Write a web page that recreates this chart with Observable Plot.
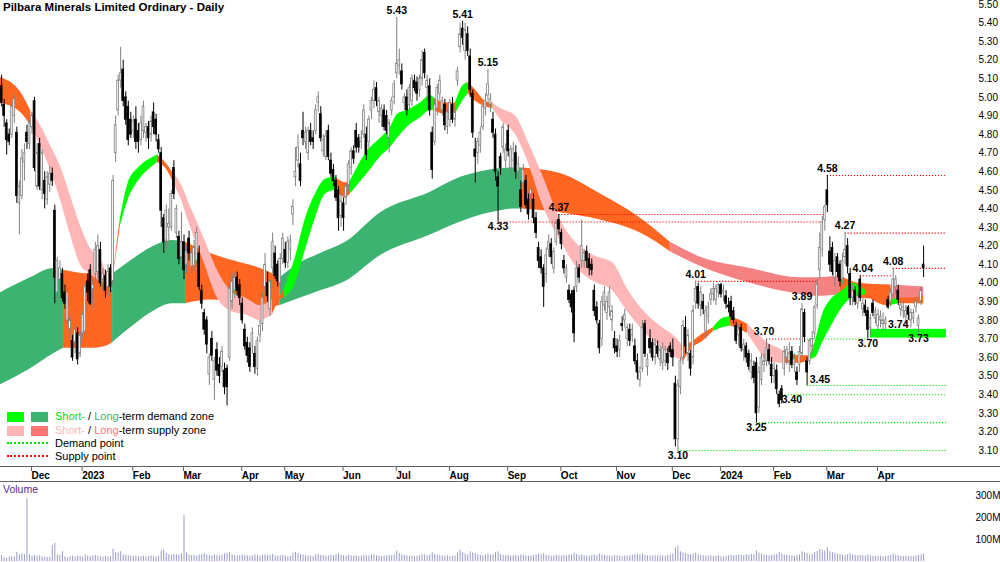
<!DOCTYPE html>
<html><head><meta charset="utf-8">
<script src="https://cdn.jsdelivr.net/npm/d3@7"></script>
<script src="https://cdn.jsdelivr.net/npm/@observablehq/plot@0.6"></script>
<style>
body{margin:0;background:#fff;font-family:"Liberation Sans",Arial,sans-serif;}
#wrap{position:relative;width:1000px;height:562px;overflow:hidden;background:#fff;}
#price,#vol{position:absolute;left:0;}
#price{top:0}
#vol{top:481px}
.title{position:absolute;left:3px;top:1px;font-weight:bold;font-size:11.5px;color:#000;}
.hl{position:absolute;left:0;width:1000px;height:1px;background:#606060;}
.leg{position:absolute;font-size:11px;color:#000;white-space:nowrap;line-height:12px;}
.box{position:absolute;width:17px;height:10px;}
.dot{position:absolute;width:41px;height:0;border-top:2px dotted;}
.vlab{position:absolute;left:3px;top:483px;font-size:10.5px;color:#5a2a8c;}
</style></head>
<body><div id="wrap">
<div id="price"></div>
<div id="vol"></div>
<div class="title">Pilbara Minerals Limited Ordinary - Daily</div>
<div class="hl" style="top:466px"></div>
<div class="hl" style="top:481px"></div>
<div class="box" style="left:7px;top:412px;background:#00ff00"></div>
<div class="box" style="left:31px;top:412px;background:#3cb371"></div>
<div class="leg" style="left:55px;top:410px"><span style="color:#00e600">Short-</span> / <span style="color:#3cb371">Long</span>-term demand zone</div>
<div class="box" style="left:7px;top:426px;background:#ffb6b6"></div>
<div class="box" style="left:31px;top:426px;background:#ff7373"></div>
<div class="leg" style="left:55px;top:424px"><span style="color:#ffb6b6">Short-</span> / <span style="color:#ff7373">Long</span>-term supply zone</div>
<div class="dot" style="left:7px;top:442px;border-color:#00e000"></div>
<div class="leg" style="left:55px;top:437px">Demand point</div>
<div class="dot" style="left:7px;top:455px;border-color:#ff0000"></div>
<div class="leg" style="left:55px;top:450px">Supply point</div>
<div class="vlab">Volume</div>
</div>
<script>
// ---- data (trading-day index from 15 Nov 2022) ----
const ohlc = [
[4.98,5.08,4.92,5.05],[5.06,5.12,4.95,4.97],[4.96,4.99,4.84,4.90],[4.86,4.88,4.69,4.77],[4.80,4.83,4.74,4.76],
[4.80,4.97,4.78,4.95],[4.90,5.02,4.86,4.99],[4.81,4.84,4.43,4.47],[4.43,4.55,4.26,4.52],[4.47,4.72,4.45,4.67],
[4.65,4.75,4.55,4.70],[4.81,4.85,4.72,4.76],[4.75,4.88,4.72,4.86],[4.84,4.92,4.80,4.90],[4.98,5.00,4.60,4.62],
[4.52,4.75,4.50,4.70],[4.75,4.78,4.50,4.52],[4.50,4.72,4.45,4.70],[4.55,4.60,4.40,4.48],[4.45,4.60,4.42,4.57],
[4.53,4.63,4.49,4.59],[4.59,4.62,4.52,4.55],[4.39,4.42,3.89,4.03],[3.95,4.14,3.90,4.12],[4.02,4.12,3.96,4.08],
[4.05,4.08,3.90,3.92],[3.95,3.99,3.86,3.89],[3.80,3.97,3.78,3.95],[3.75,3.82,3.70,3.80],[3.69,3.72,3.58,3.60],
[3.68,3.77,3.62,3.75],[3.73,3.76,3.56,3.59],[3.62,3.74,3.60,3.72],[3.73,3.85,3.70,3.83],[3.74,4.00,3.72,3.98],
[4.01,4.05,3.90,3.95],[4.07,4.10,3.88,3.89],[3.97,4.02,3.86,3.99],[4.05,4.22,4.00,4.18],[4.06,4.26,4.02,4.20],
[4.18,4.22,3.98,4.00],[4.02,4.08,3.95,4.05],[4.04,4.07,3.92,3.96],[3.98,4.10,3.93,4.06],[4.08,4.10,3.95,3.98],
[4.01,4.58,3.99,4.55],[4.70,4.90,4.65,4.85],[4.93,5.12,4.90,5.09],[5.09,5.27,5.05,5.13],[5.15,5.20,4.95,4.98],
[5.00,5.03,4.85,4.88],[4.95,4.98,4.74,4.77],[4.88,4.92,4.78,4.80],[4.82,4.90,4.78,4.87],[4.88,4.95,4.72,4.76],
[4.82,4.86,4.70,4.76],[4.77,4.90,4.74,4.86],[4.82,4.98,4.78,4.95],[4.81,4.86,4.76,4.84],[4.84,4.87,4.72,4.78],
[4.80,4.90,4.76,4.87],[4.92,4.97,4.80,4.84],[4.88,4.91,4.76,4.80],[4.77,4.80,4.70,4.72],[4.70,4.73,4.30,4.39],
[4.35,4.37,4.16,4.22],[4.23,4.42,4.18,4.39],[4.30,4.40,4.22,4.32],[4.30,4.50,4.28,4.48],[4.62,4.66,4.45,4.48],
[4.27,4.42,4.24,4.40],[4.25,4.28,4.10,4.13],[4.14,4.38,4.12,4.22],[4.22,4.26,4.02,4.07],[4.10,4.20,4.05,4.17],
[4.24,4.28,4.12,4.16],[4.09,4.19,4.05,4.16],[4.09,4.23,4.06,4.19],[4.12,4.30,4.10,4.27],[4.16,4.20,3.96,3.98],
[3.96,3.99,3.86,3.89],[3.84,3.86,3.72,3.75],[3.80,3.82,3.62,3.67],[3.51,3.62,3.45,3.60],[3.70,3.74,3.58,3.61],
[3.48,3.60,3.37,3.58],[3.64,3.68,3.50,3.53],[3.56,3.60,3.46,3.50],[3.55,3.66,3.52,3.63],[3.53,3.57,3.40,3.44],
[3.54,3.56,3.34,3.44],[3.60,3.99,3.58,3.97],[3.90,4.05,3.86,4.01],[3.96,4.06,3.92,4.03],[4.03,4.06,3.93,3.96],
[3.99,4.02,3.88,3.92],[3.89,3.92,3.78,3.80],[3.75,3.78,3.64,3.66],[3.68,3.71,3.57,3.61],[3.65,3.68,3.52,3.55],
[3.66,3.76,3.62,3.73],[3.62,3.66,3.51,3.55],[3.54,3.71,3.50,3.69],[3.72,3.80,3.68,3.77],[3.78,3.95,3.74,3.92],
[3.98,4.16,3.95,4.10],[4.00,4.06,3.90,3.93],[3.86,4.02,3.82,4.01],[4.08,4.27,4.05,4.22],[4.16,4.20,4.02,4.04],
[4.10,4.12,3.98,4.01],[4.00,4.16,3.96,4.13],[4.13,4.27,4.10,4.24],[4.18,4.22,4.08,4.11],[4.11,4.25,4.08,4.22],
[4.18,4.26,4.12,4.23],[4.37,4.45,4.31,4.41],[4.57,4.73,4.52,4.60],[4.66,4.80,4.62,4.73],[4.64,4.70,4.52,4.55],
[4.82,4.92,4.74,4.78],[4.76,4.84,4.72,4.81],[4.70,4.84,4.66,4.82],[4.82,4.86,4.74,4.76],[4.78,4.82,4.72,4.76],
[4.82,4.96,4.80,4.93],[4.97,5.03,4.92,5.00],[4.91,4.95,4.76,4.78],[4.71,4.80,4.68,4.77],[4.68,4.82,4.66,4.79],
[4.82,4.85,4.66,4.68],[4.66,4.70,4.57,4.59],[4.61,4.64,4.52,4.55],[4.55,4.58,4.44,4.46],[4.50,4.52,4.28,4.35],
[4.36,4.48,4.30,4.44],[4.43,4.46,4.28,4.35],[4.46,4.54,4.42,4.52],[4.53,4.66,4.50,4.64],[4.62,4.73,4.58,4.71],
[4.71,4.74,4.64,4.67],[4.82,4.86,4.70,4.73],[4.78,4.80,4.70,4.73],[4.76,4.82,4.72,4.78],[4.80,4.96,4.78,4.93],
[4.80,4.84,4.66,4.69],[4.76,4.90,4.72,4.88],[4.93,5.00,4.88,4.98],[4.98,5.09,4.94,5.04],[5.05,5.08,4.95,4.98],
[4.92,5.00,4.86,4.98],[4.90,4.96,4.84,4.94],[4.93,4.96,4.82,4.84],[4.90,4.93,4.80,4.82],[4.78,4.88,4.70,4.86],
[4.93,5.00,4.90,4.98],[5.00,5.09,4.96,5.07],[5.13,5.43,5.10,5.18],[5.17,5.26,5.12,5.20],[5.14,5.18,5.04,5.07],
[4.97,5.02,4.93,5.00],[5.00,5.04,4.90,4.93],[4.96,5.07,4.93,5.05],[4.98,5.12,4.95,5.10],[5.09,5.12,5.03,5.05],
[5.08,5.11,4.98,5.02],[5.04,5.12,5.00,5.10],[5.10,5.25,5.06,5.20],[5.24,5.26,5.10,5.13],[5.05,5.12,4.98,5.09],
[5.06,5.10,4.90,4.93],[4.81,4.84,4.56,4.61],[4.76,4.99,4.74,4.96],[4.94,5.07,4.90,5.05],[5.02,5.12,4.98,5.09],
[4.93,5.00,4.90,4.98],[4.96,4.99,4.82,4.85],[4.84,4.94,4.80,4.92],[4.88,4.99,4.84,4.97],[4.96,5.00,4.86,4.88],
[4.88,4.95,4.84,4.92],[5.09,5.16,5.06,5.14],[5.27,5.40,5.24,5.34],[5.37,5.41,5.28,5.32],[5.25,5.40,5.20,5.36],
[5.34,5.38,5.22,5.25],[5.22,5.26,5.00,5.04],[5.02,5.04,4.78,4.81],[4.72,4.78,4.54,4.68],[4.70,4.78,4.64,4.76],
[4.74,4.84,4.70,4.81],[4.84,4.97,4.82,4.95],[4.94,5.02,4.90,4.98],[5.01,5.15,4.98,5.07],[4.96,5.02,4.92,4.99],
[4.88,4.92,4.78,4.81],[4.80,4.83,4.55,4.60],[4.57,4.60,4.33,4.52],[4.68,4.70,4.58,4.62],[4.73,4.86,4.70,4.84],
[4.66,4.75,4.62,4.72],[4.82,4.85,4.68,4.71],[4.62,4.74,4.58,4.72],[4.66,4.76,4.62,4.72],[4.70,4.74,4.56,4.60],
[4.60,4.68,4.55,4.64],[4.50,4.55,4.38,4.41],[4.54,4.64,4.50,4.61],[4.55,4.58,4.40,4.42],[4.45,4.48,4.34,4.37],
[4.48,4.52,4.43,4.50],[4.45,4.48,4.32,4.35],[4.35,4.38,4.24,4.27],[4.19,4.22,4.08,4.12],[4.14,4.18,4.05,4.08],
[4.08,4.10,3.87,3.98],[4.05,4.19,4.00,4.15],[4.18,4.26,4.14,4.22],[4.21,4.24,4.10,4.14],[4.08,4.19,4.05,4.17],
[4.22,4.34,4.20,4.32],[4.34,4.37,4.26,4.29],[4.27,4.29,4.18,4.21],[4.12,4.15,4.05,4.08],[4.03,4.10,4.00,4.08],
[3.96,3.99,3.89,3.91],[3.94,3.96,3.84,3.87],[3.96,3.98,3.68,3.73],[3.98,4.12,3.95,4.08],[4.08,4.10,4.00,4.03],
[4.12,4.34,4.08,4.20],[4.12,4.18,4.08,4.16],[4.17,4.20,4.08,4.12],[4.13,4.16,4.04,4.08],[4.10,4.13,4.04,4.07],
[3.96,3.99,3.82,3.85],[3.87,3.90,3.78,3.80],[3.78,3.80,3.62,3.65],[3.70,3.93,3.66,3.90],[3.88,3.98,3.85,3.95],
[3.84,3.93,3.80,3.90],[3.87,3.98,3.82,3.95],[3.80,3.88,3.74,3.85],[3.70,3.74,3.62,3.65],[3.66,3.70,3.60,3.63],
[3.64,3.72,3.60,3.69],[3.78,3.82,3.74,3.77],[3.80,3.86,3.76,3.83],[3.70,3.78,3.66,3.76],[3.75,3.78,3.66,3.69],
[3.72,3.78,3.68,3.75],[3.66,3.70,3.56,3.58],[3.58,3.62,3.48,3.52],[3.48,3.55,3.44,3.52],[3.54,3.80,3.52,3.76],
[3.78,3.80,3.60,3.62],[3.55,3.62,3.50,3.59],[3.70,3.75,3.62,3.65],[3.68,3.70,3.58,3.60],[3.60,3.70,3.56,3.67],
[3.66,3.69,3.60,3.62],[3.59,3.66,3.55,3.64],[3.57,3.68,3.53,3.65],[3.58,3.66,3.55,3.64],[3.62,3.65,3.53,3.57],
[3.66,3.68,3.60,3.63],[3.64,3.70,3.55,3.60],[3.46,3.50,3.12,3.16],[3.16,3.48,3.10,3.45],[3.44,3.60,3.40,3.58],
[3.60,3.80,3.56,3.77],[3.76,3.82,3.62,3.66],[3.62,3.75,3.58,3.72],[3.62,3.64,3.50,3.54],[3.60,3.88,3.56,3.85],
[3.90,4.01,3.86,3.97],[3.98,4.00,3.86,3.89],[3.88,3.98,3.82,3.95],[3.90,3.94,3.83,3.86],[3.74,3.88,3.70,3.85],
[3.82,3.90,3.78,3.87],[3.91,3.97,3.88,3.94],[3.94,4.00,3.90,3.97],[3.91,3.99,3.88,3.97],[3.95,4.00,3.92,3.99],
[3.99,4.00,3.92,3.94],[3.95,3.99,3.90,3.96],[3.93,3.96,3.86,3.89],[3.88,3.92,3.84,3.87],[3.90,3.93,3.80,3.82],
[3.85,3.87,3.78,3.80],[3.77,3.79,3.67,3.69],[3.72,3.78,3.66,3.75],[3.76,3.78,3.63,3.65],[3.64,3.70,3.58,3.67],
[3.66,3.68,3.57,3.60],[3.62,3.64,3.53,3.55],[3.52,3.62,3.48,3.58],[3.55,3.58,3.46,3.49],[3.57,3.60,3.25,3.30],
[3.33,3.55,3.30,3.52],[3.48,3.62,3.45,3.60],[3.56,3.62,3.52,3.58],[3.58,3.70,3.55,3.65],[3.64,3.67,3.56,3.58],
[3.56,3.60,3.46,3.50],[3.50,3.57,3.46,3.54],[3.53,3.56,3.40,3.43],[3.40,3.42,3.33,3.35],[3.43,3.45,3.35,3.37],
[3.54,3.66,3.50,3.63],[3.60,3.66,3.56,3.64],[3.58,3.68,3.52,3.62],[3.63,3.66,3.54,3.56],[3.56,3.62,3.52,3.59],
[3.52,3.55,3.45,3.48],[3.56,3.66,3.52,3.63],[3.62,3.89,3.60,3.86],[3.84,3.86,3.68,3.71],[3.58,3.60,3.45,3.52],
[3.58,3.70,3.56,3.69],[3.66,3.74,3.62,3.70],[3.73,3.88,3.70,3.87],[3.88,4.02,3.86,3.99],[4.07,4.27,4.02,4.19],
[4.18,4.36,4.14,4.33],[4.34,4.42,4.28,4.41],[4.50,4.58,4.38,4.42],[4.17,4.25,4.06,4.10],[4.19,4.22,4.04,4.06],
[4.03,4.16,3.98,4.12],[4.14,4.16,4.03,4.06],[4.10,4.12,3.98,4.01],[4.02,4.16,3.99,4.12],[4.14,4.27,4.10,4.18],
[4.20,4.24,4.05,4.09],[4.05,4.08,3.88,3.92],[3.92,3.99,3.88,3.96],[3.96,3.98,3.88,3.90],[3.89,3.95,3.86,3.93],
[4.02,4.04,3.90,3.92],[3.86,3.92,3.82,3.89],[3.88,3.91,3.82,3.84],[3.85,3.87,3.70,3.75],[3.76,3.83,3.72,3.81],
[3.89,3.91,3.82,3.84],[3.81,3.87,3.78,3.85],[3.77,3.86,3.75,3.83],[3.80,3.85,3.76,3.82],[3.78,3.84,3.74,3.80],
[3.78,3.82,3.75,3.80],[3.91,3.93,3.86,3.87],[3.90,3.97,3.87,3.95],[3.94,4.08,3.92,4.02],[3.98,4.04,3.94,4.02],
[3.96,3.99,3.88,3.91],[3.86,3.90,3.82,3.88],[3.85,3.90,3.81,3.87],[3.82,3.88,3.77,3.85],[3.87,3.88,3.80,3.83],
[3.80,3.86,3.76,3.84],[3.81,3.86,3.78,3.84],[3.87,3.92,3.84,3.90],[3.77,3.83,3.73,3.81],[3.90,3.98,3.88,3.96],
[4.10,4.20,4.03,4.08]
];
const volumeM = [
35,27,18,15,20,22,20,42,30,35, 30,285,30,24,28,24,26,20,20,18, 18,72,82,30,28,45,20,16,22,24,
20,25,22,20,30,26,22,25,28,24, 22,20,24,20,22,55,40,38,45,30, 28,26,24,22,25,20,22,24,20,22,
25,22,20,24,48,52,36,30,28,32, 30,28,35,209,40,30,26,28,25,30, 32,35,30,28,26,30,28,25,30,34,
36,40,30,28,25,26,30,28,26,24, 25,30,26,24,28,30,26,28,32,26, 24,26,28,25,22,24,38,42,36,32,
30,26,24,25,22,30,32,28,26,24, 25,28,26,30,34,28,26,24,28,26, 24,26,22,24,28,26,25,28,30,26,
24,22,25,26,28,26,30,48,36,30, 28,26,24,25,22,24,26,32,30,26, 28,40,32,28,26,25,24,26,22,24,
25,38,52,40,34,30,45,38,36,30, 28,26,30,34,28,30,40,44,32,28, 26,28,24,26,28,25,30,28,26,24,
25,28,30,32,30,36,28,26,24,25, 28,26,25,28,26,30,28,38,32,26, 30,26,25,24,28,30,26,34,30,28,
26,25,24,28,26,24,22,25,24,26, 28,30,32,30,34,28,26,25,24,26, 25,24,26,25,28,30,34,62,70,44,
40,36,32,30,34,38,30,28,26,25, 24,26,22,24,26,22,20,24,26,28, 26,28,30,28,26,30,28,32,30,48,
38,34,30,28,26,28,30,32,40,34, 30,28,26,25,24,28,30,44,38,36, 30,32,40,46,55,50,48,62,45,40,
38,34,32,30,28,30,36,30,28,26, 28,26,25,30,26,24,22,25,24,22, 22,25,28,34,30,26,24,22,24,22,
24,22,25,28,30,34
];
// long-term zone edges sampled along the index
const ltIdx = [0,12.4,21.5,25.4,36,42,44.8,51.9,59.8,68.5,73.6,83.5,95.3,103.2,111,119,126.9,136.8,150.6,170.3,182.2,194,203.9,206.6,221.6,237.4,253.2,265,277,296.6,316.4,323.5,332.2,339.3,352,365];
const ltTop = [3.945,4.03,4.08,4.07,4.05,4.05,4.05,4.12,4.19,4.23,4.22,4.16,4.11,4.08,4.03,4.11,4.16,4.22,4.38,4.49,4.57,4.61,4.62,4.62,4.59,4.48,4.35,4.22,4.14,4.08,4.03,4.03,4.04,4.00,3.99,3.98];
const ltBot = [3.45,3.54,3.62,3.65,3.65,3.66,3.68,3.76,3.84,3.89,3.89,3.91,3.89,3.87,3.88,3.92,3.96,4.01,4.15,4.26,4.33,4.38,4.40,4.40,4.38,4.34,4.27,4.17,4.09,4.00,3.94,3.93,3.94,3.92,3.91,3.90];
const ltZone = "GGGOOOGGGGOOOOGGGGGGGGGOOOORRRRROORRR".slice(0,36);
// short-term zone edges
const stIdx = [0,8.4,12.4,16.3,20.3,24.2,28.2,32.1,36,40,42.4,44.8,47.1,47.9,51,55,59.8,62.5,65.7,68.9,71.6,75.6,80.7,86.2,91.4,97.3,103.2,107.9,111,112.7,117,121,124.9,128.9,132.8,136.8,138.7,145.4,150.6,154.5,157.3,161.2,166.4,170.3,171.5,176.2,180.2,183,185.3,188.1,192,194.8,198,203.9,208.6,214.9,221.6,228.3,234.7,242.2,248.5,255.2,261.9,267,270.2,273,278.1,282,285.6,288.8,292.7,295.5,299.4,303.3,307.7,310.5,316.4,320.3,322.3,325.1,329,333,337,340.1,342.4,346,350,352,355,359.8,365];
const stTop = [5.11,5.03,4.93,4.85,4.74,4.63,4.47,4.31,4.19,4.13,4.06,4.06,4.27,4.35,4.54,4.62,4.67,4.69,4.65,4.59,4.54,4.41,4.25,4.07,3.96,3.92,3.88,3.91,3.93,3.97,4.14,4.35,4.48,4.56,4.57,4.54,4.55,4.71,4.78,4.84,4.91,4.93,4.97,5.01,5.00,4.97,4.97,5.06,5.08,5.04,4.98,4.97,4.94,4.90,4.77,4.57,4.34,4.21,4.15,4.11,3.96,3.84,3.76,3.71,3.66,3.68,3.73,3.76,3.81,3.82,3.80,3.78,3.73,3.68,3.65,3.63,3.61,3.61,3.69,3.83,3.92,3.96,4.00,3.98,3.96,3.94,3.92,3.91,3.92,3.92,3.93];
const stBot = [4.97,4.92,4.85,4.74,4.61,4.45,4.26,4.10,4.05,4.01,4.00,4.04,4.23,4.31,4.45,4.55,4.62,4.65,4.62,4.54,4.46,4.30,4.12,3.92,3.85,3.83,3.80,3.83,3.91,3.92,4.00,4.18,4.35,4.48,4.50,4.46,4.48,4.59,4.68,4.73,4.78,4.84,4.89,4.93,4.93,4.91,4.91,4.98,5.02,4.98,4.95,4.94,4.88,4.80,4.66,4.41,4.23,4.08,4.01,3.96,3.84,3.73,3.65,3.60,3.58,3.64,3.69,3.74,3.76,3.77,3.75,3.73,3.65,3.58,3.57,3.57,3.57,3.59,3.60,3.68,3.78,3.87,3.92,3.93,3.94,3.90,3.88,3.88,3.89,3.89,3.89];
const stZone = "OOPPPPPPPP"+"OOOLLLLOOP"+"PPPPPPPOOL"+"LLLLOOLLLL"+"LLLLOOLLOO"+"OPPPPPPPPP"+"PPPPOOOLLO"+"OPPPPOOLLL"+"LLLLOOOLOO"+"O";
// supply / demand point levels
const lvlPrice = [4.58,4.37,4.33,4.27,4.08,4.04,4.01,3.70,3.70,3.45,3.40,3.25,3.10];
const lvlFrom  = [327,221,197,334,353,340,275,303,318,319,308,299,268];
const lvlTo    = [374,326,326,374,374,353,323,318,344,374,374,374,374];
const lvlKind  = ["supply","supply","supply","supply","supply","supply","supply","supply","demand","demand","demand","demand","demand"];
const zoneBox = {from:344, to:374, low:3.705, high:3.752};
// labelled highs / lows
const lblText = ["5.43","5.41","5.15","4.33","4.37","4.01","3.10","3.70","3.25","3.40","3.89","3.45","4.58","4.27","4.04","4.08","3.70","3.74","3.73"];
const lblIdx  = [157,183,193,197,221,275,268,302,299,313,317,322,327,334,341,353,343,355,363];
const lblPos  = ["above","above","above","below","above","above","below","above","below","below","above","right","above","above","above","above","below","above","below"];
// axes
const monthIdx = [12,32,52,72,95,112,135,156,177,200,221,243,265,284,305,326,346];
const monthLabel = ["Dec","2023","Feb","Mar","Apr","May","Jun","Jul","Aug","Sep","Oct","Nov","Dec","2024","Feb","Mar","Apr"];
const priceTicks = d3.range(3.1, 5.501, 0.1).map(v => +v.toFixed(2));
const volTicks = [100,200,300];

// ---- derived tables ----
const candles = ohlc.map(([o,h,l,c],i)=>({i,o,h,l,c,up:c>=o}));
const vols = volumeM.map((v,i)=>({i,v}));
const zoneColor = {L:"#00ff00",G:"#3cb371",P:"#ffb6b6",O:"#ff6622",R:"#f58282"};
function bandRows(idx, top, bot, zone){
  const rows=[]; let run=0;
  for(let k=0;k<idx.length;k++){
    if(k>0 && zone[k]!==zone[k-1]) run++;
    rows.push({x:idx[k],y1:bot[k],y2:top[k],zone:zone[k],run});
    if(k+1<idx.length && zone[k+1]!==zone[k]) rows.push({x:idx[k+1],y1:bot[k+1],y2:top[k+1],zone:zone[k],run});
  }
  return rows;
}
const ltRows = bandRows(ltIdx, ltTop, ltBot, ltZone);
const stRows = bandRows(stIdx, stTop, stBot, stZone);
const levels = lvlPrice.map((p,k)=>({p,from:lvlFrom[k],to:lvlTo[k],kind:lvlKind[k]}));
const labels = lblText.map((t,k)=>({t, i:lblIdx[k], p:+t, pos:lblPos[k]}));

const xOpt = {domain:[0,365], range:[-1.4, 923.1]};
const font = {fontFamily:"'Liberation Sans', Arial, sans-serif", fontSize:"10px", background:"transparent", overflow:"visible"};
const lblStyle = {x:"i",y:"p",text:"t",fontWeight:"bold",fontSize:10.5,fill:"#000"};

const price = Plot.plot({
  width:1000, height:481, marginLeft:0, marginRight:52, marginTop:0, marginBottom:15,
  style:font, clip:true,
  x:{...xOpt, axis:null, label:null},
  y:{domain:[3.1,5.5], range:[450,4], axis:null, label:null},
  color:{type:"identity"},
  marks:[
    Plot.areaY(ltRows,{x:"x",y1:"y1",y2:"y2",z:"run",fill:d=>zoneColor[d.zone],curve:"monotone-x"}),
    Plot.areaY(stRows,{x:"x",y1:"y1",y2:"y2",z:"run",fill:d=>zoneColor[d.zone],curve:"monotone-x"}),
    Plot.rect([zoneBox],{x1:"from",x2:"to",y1:"low",y2:"high",fill:"#00ff00"}),
    Plot.ruleY(levels,{y:"p",x1:"from",x2:"to",stroke:d=>d.kind==="supply"?"#ff0000":"#00dd00",strokeWidth:1.1,strokeDasharray:"1.2,1.8"}),
    Plot.ruleX(candles,{x:"i",y1:"l",y2:"h",stroke:d=>d.up?"#808080":"#000",strokeWidth:1}),
    Plot.rect(candles,{x1:d=>d.i-0.36,x2:d=>d.i+0.36,y1:"o",y2:"c",fill:d=>d.up?"#fff":"#000",stroke:d=>d.up?"#808080":"#000",strokeWidth:0.8}),
    Plot.text(labels.filter(d=>d.pos==="above"),{...lblStyle,dy:-7,clip:false}),
    Plot.text(labels.filter(d=>d.pos==="below"),{...lblStyle,dy:5}),
    Plot.text(labels.filter(d=>d.pos==="right"),{...lblStyle,dx:-5,dy:-6,textAnchor:"start"}),
    Plot.axisX(monthIdx,{anchor:"bottom",label:null,tickSize:5,tickPadding:0,textAnchor:"start",dx:2,fontWeight:"bold",fontSize:10,stroke:"#606060",tickFormat:d=>monthLabel[monthIdx.indexOf(d)],clip:false}),
    Plot.axisY(priceTicks,{anchor:"right",label:null,tickSize:0,tickPadding:30,fontSize:10,tickFormat:d=>d.toFixed(2),clip:false})
  ]
});
document.getElementById("price").appendChild(price);

const vol = Plot.plot({
  width:1000, height:81, marginLeft:0, marginRight:52, marginTop:0, marginBottom:0,
  style:font, clip:true,
  x:{...xOpt, axis:null, label:null},
  y:{domain:[0,300], range:[80,14], axis:null, label:null},
  marks:[
    Plot.ruleX(vols,{x:"i",y1:0,y2:"v",stroke:"#9a9acc",strokeWidth:1}),
    Plot.axisY(volTicks,{anchor:"right",label:null,tickSize:0,tickPadding:27,fontSize:10,tickFormat:d=>d+"M",clip:false})
  ]
});
document.getElementById("vol").appendChild(vol);
</script>
</body></html>
